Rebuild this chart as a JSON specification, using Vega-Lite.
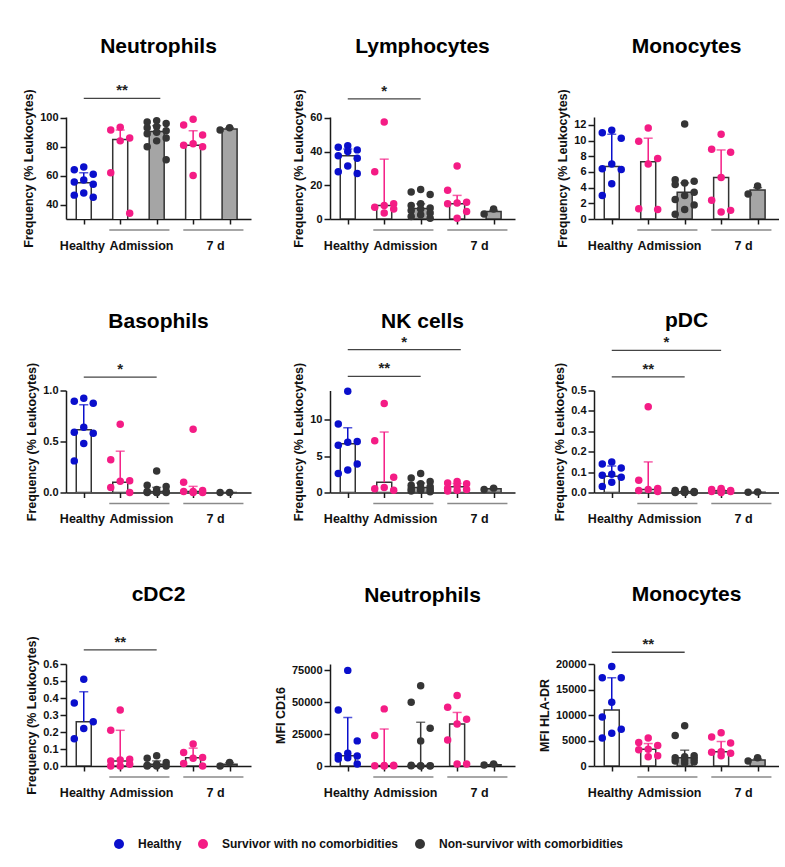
{
"$schema": "https://vega.github.io/schema/vega-lite/v6.json",
"padding": {"left": 22, "top": 35, "right": 0, "bottom": 0},
"datasets": {
"cats": [
{"c":"H","pos":1,"grp":"Healthy"},
{"c":"SA","pos":2,"grp":"Survivor with no comorbidities"},
{"c":"NA","pos":3,"grp":"Non-survivor with comorbidities"},
{"c":"S7","pos":4,"grp":"Survivor with no comorbidities"},
{"c":"N7","pos":5,"grp":"Non-survivor with comorbidities"}
],
"und": [{"x1":1.7,"x2":3.35},{"x1":3.73,"x2":5.38}],
"sig": [
{"p":1,"x1":1,"x2":3.1,"y":113.4,"t":"**"},
{"p":2,"x1":1,"x2":3,"y":71.2,"t":"*"},
{"p":4,"x1":1,"x2":3,"y":1.131,"t":"*"},
{"p":5,"x1":1,"x2":4.1,"y":19.6,"t":"*"},
{"p":5,"x1":1,"x2":3,"y":15.95,"t":"**"},
{"p":6,"x1":1,"x2":4,"y":0.697,"t":"*"},
{"p":6,"x1":1,"x2":3,"y":0.567,"t":"**"},
{"p":7,"x1":1,"x2":3,"y":0.683,"t":"**"},
{"p":9,"x1":1,"x2":3,"y":22300,"t":"**"}
],
"sum": [
{"p":1,"c":"H","med":55,"q3":62},{"p":1,"c":"SA","med":85,"q3":91.5},{"p":1,"c":"NA","med":90.5,"q3":94.5},{"p":1,"c":"S7","med":81,"q3":91},{"p":1,"c":"N7","med":92.2,"q3":93},
{"p":2,"c":"H","med":37.5,"q3":41.5},{"p":2,"c":"SA","med":8,"q3":35.5},{"p":2,"c":"NA","med":6.3,"q3":9},{"p":2,"c":"S7","med":9,"q3":14},{"p":2,"c":"N7","med":4.5,"q3":5.2},
{"p":3,"c":"H","med":6.7,"q3":10.8},{"p":3,"c":"SA","med":7.3,"q3":10.3},{"p":3,"c":"NA","med":3.4,"q3":4.6},{"p":3,"c":"S7","med":5.3,"q3":8.8},{"p":3,"c":"N7","med":3.7,"q3":4},
{"p":4,"c":"H","med":0.615,"q3":0.86},{"p":4,"c":"SA","med":0.1,"q3":0.405},{"p":4,"c":"NA","med":0.01,"q3":0.05},{"p":4,"c":"S7","med":0.01,"q3":0.06},{"p":4,"c":"N7","med":0,"q3":0},
{"p":5,"c":"H","med":6.7,"q3":8.9},{"p":5,"c":"SA","med":1.4,"q3":8.3},{"p":5,"c":"NA","med":0.7,"q3":1.3},{"p":5,"c":"S7","med":0.8,"q3":1.25},{"p":5,"c":"N7","med":0.5,"q3":0.55},
{"p":6,"c":"H","med":0.08,"q3":0.13},{"p":6,"c":"SA","med":0.015,"q3":0.15},{"p":6,"c":"NA","med":0.004,"q3":0.008},{"p":6,"c":"S7","med":0.008,"q3":0.013},{"p":6,"c":"N7","med":0.0015,"q3":0.002},
{"p":7,"c":"H","med":0.26,"q3":0.437},{"p":7,"c":"SA","med":0.03,"q3":0.21},{"p":7,"c":"NA","med":0.01,"q3":0.03},{"p":7,"c":"S7","med":0.048,"q3":0.105},{"p":7,"c":"N7","med":0.01,"q3":0.02},
{"p":8,"c":"H","med":8000,"q3":38000},{"p":8,"c":"SA","med":300,"q3":29000},{"p":8,"c":"NA","med":400,"q3":34300},{"p":8,"c":"S7","med":33000,"q3":42000},{"p":8,"c":"N7","med":1000,"q3":1400},
{"p":9,"c":"H","med":11000,"q3":17300},{"p":9,"c":"SA","med":3300,"q3":4400},{"p":9,"c":"NA","med":1600,"q3":3100},{"p":9,"c":"S7","med":2800,"q3":4800},{"p":9,"c":"N7","med":1200,"q3":1400}
],
"pts": [
{"p":1,"c":"H","v":66},{"p":1,"c":"H","v":64},{"p":1,"c":"H","v":61},{"p":1,"c":"H","v":57},{"p":1,"c":"H","v":55.5},{"p":1,"c":"H","v":54},{"p":1,"c":"H","v":48},{"p":1,"c":"H","v":46.5},{"p":1,"c":"H","v":45},
{"p":1,"c":"SA","v":93.5},{"p":1,"c":"SA","v":91.5},{"p":1,"c":"SA","v":86},{"p":1,"c":"SA","v":84},{"p":1,"c":"SA","v":62},{"p":1,"c":"SA","v":34},
{"p":1,"c":"NA","v":98},{"p":1,"c":"NA","v":97},{"p":1,"c":"NA","v":96},{"p":1,"c":"NA","v":94},{"p":1,"c":"NA","v":93},{"p":1,"c":"NA","v":91},{"p":1,"c":"NA","v":90},{"p":1,"c":"NA","v":89},{"p":1,"c":"NA","v":86},{"p":1,"c":"NA","v":84},{"p":1,"c":"NA","v":80},{"p":1,"c":"NA","v":71},
{"p":1,"c":"S7","v":99},{"p":1,"c":"S7","v":95},{"p":1,"c":"S7","v":88},{"p":1,"c":"S7","v":82},{"p":1,"c":"S7","v":81},{"p":1,"c":"S7","v":80},{"p":1,"c":"S7","v":60},
{"p":1,"c":"N7","v":91.5},{"p":1,"c":"N7","v":93},
{"p":2,"c":"H","v":43.5},{"p":2,"c":"H","v":42.5},{"p":2,"c":"H","v":41},{"p":2,"c":"H","v":40},{"p":2,"c":"H","v":37.5},{"p":2,"c":"H","v":36},{"p":2,"c":"H","v":31.5},{"p":2,"c":"H","v":28},{"p":2,"c":"H","v":27},
{"p":2,"c":"SA","v":57.5},{"p":2,"c":"SA","v":28},{"p":2,"c":"SA","v":9},{"p":2,"c":"SA","v":8},{"p":2,"c":"SA","v":7},{"p":2,"c":"SA","v":6},{"p":2,"c":"SA","v":3.5},
{"p":2,"c":"NA","v":17.5},{"p":2,"c":"NA","v":16},{"p":2,"c":"NA","v":14.5},{"p":2,"c":"NA","v":9},{"p":2,"c":"NA","v":8},{"p":2,"c":"NA","v":6.5},{"p":2,"c":"NA","v":6},{"p":2,"c":"NA","v":5},{"p":2,"c":"NA","v":3.5},{"p":2,"c":"NA","v":2.5},{"p":2,"c":"NA","v":1.5},{"p":2,"c":"NA","v":0.5},
{"p":2,"c":"S7","v":31.5},{"p":2,"c":"S7","v":17},{"p":2,"c":"S7","v":10},{"p":2,"c":"S7","v":9.5},{"p":2,"c":"S7","v":9},{"p":2,"c":"S7","v":4.5},{"p":2,"c":"S7","v":0.5},
{"p":2,"c":"N7","v":6},{"p":2,"c":"N7","v":3},
{"p":3,"c":"H","v":11.3},{"p":3,"c":"H","v":11},{"p":3,"c":"H","v":10.3},{"p":3,"c":"H","v":7},{"p":3,"c":"H","v":6.4},{"p":3,"c":"H","v":6.3},{"p":3,"c":"H","v":4.5},{"p":3,"c":"H","v":3},
{"p":3,"c":"SA","v":11.6},{"p":3,"c":"SA","v":9.9},{"p":3,"c":"SA","v":7.7},{"p":3,"c":"SA","v":7},{"p":3,"c":"SA","v":1.3},{"p":3,"c":"SA","v":1.2},
{"p":3,"c":"NA","v":12.1},{"p":3,"c":"NA","v":5},{"p":3,"c":"NA","v":4.8},{"p":3,"c":"NA","v":4.6},{"p":3,"c":"NA","v":4.4},{"p":3,"c":"NA","v":3.4},{"p":3,"c":"NA","v":3},{"p":3,"c":"NA","v":2.5},{"p":3,"c":"NA","v":1.8},{"p":3,"c":"NA","v":1.2},{"p":3,"c":"NA","v":0.6},
{"p":3,"c":"S7","v":10.8},{"p":3,"c":"S7","v":8.9},{"p":3,"c":"S7","v":8.5},{"p":3,"c":"S7","v":5.3},{"p":3,"c":"S7","v":2.4},{"p":3,"c":"S7","v":1.1},{"p":3,"c":"S7","v":0.9},
{"p":3,"c":"N7","v":4.2},{"p":3,"c":"N7","v":3.2},
{"p":4,"c":"H","v":0.925},{"p":4,"c":"H","v":0.895},{"p":4,"c":"H","v":0.875},{"p":4,"c":"H","v":0.64},{"p":4,"c":"H","v":0.59},{"p":4,"c":"H","v":0.58},{"p":4,"c":"H","v":0.48},{"p":4,"c":"H","v":0.31},
{"p":4,"c":"SA","v":0.67},{"p":4,"c":"SA","v":0.32},{"p":4,"c":"SA","v":0.115},{"p":4,"c":"SA","v":0.11},{"p":4,"c":"SA","v":0.05},{"p":4,"c":"SA","v":0},
{"p":4,"c":"NA","v":0.21},{"p":4,"c":"NA","v":0.07},{"p":4,"c":"NA","v":0.06},{"p":4,"c":"NA","v":0.03},{"p":4,"c":"NA","v":0.01},{"p":4,"c":"NA","v":0.01},{"p":4,"c":"NA","v":0},{"p":4,"c":"NA","v":0},{"p":4,"c":"NA","v":0},{"p":4,"c":"NA","v":0},
{"p":4,"c":"S7","v":0.62},{"p":4,"c":"S7","v":0.1},{"p":4,"c":"S7","v":0.02},{"p":4,"c":"S7","v":0.01},{"p":4,"c":"S7","v":0.01},{"p":4,"c":"S7","v":0},{"p":4,"c":"S7","v":0},
{"p":4,"c":"N7","v":0},{"p":4,"c":"N7","v":0},
{"p":5,"c":"H","v":13.9},{"p":5,"c":"H","v":9.4},{"p":5,"c":"H","v":7},{"p":5,"c":"H","v":6.9},{"p":5,"c":"H","v":6.5},{"p":5,"c":"H","v":3.9},{"p":5,"c":"H","v":3.1},{"p":5,"c":"H","v":2.6},
{"p":5,"c":"SA","v":12.2},{"p":5,"c":"SA","v":7.1},{"p":5,"c":"SA","v":2.1},{"p":5,"c":"SA","v":0.7},{"p":5,"c":"SA","v":0.5},{"p":5,"c":"SA","v":0.3},
{"p":5,"c":"NA","v":2.6},{"p":5,"c":"NA","v":2},{"p":5,"c":"NA","v":1.5},{"p":5,"c":"NA","v":1.2},{"p":5,"c":"NA","v":1},{"p":5,"c":"NA","v":0.8},{"p":5,"c":"NA","v":0.6},{"p":5,"c":"NA","v":0.5},{"p":5,"c":"NA","v":0.4},{"p":5,"c":"NA","v":0.3},{"p":5,"c":"NA","v":0.2},{"p":5,"c":"NA","v":0.1},
{"p":5,"c":"S7","v":1.5},{"p":5,"c":"S7","v":1.3},{"p":5,"c":"S7","v":1.2},{"p":5,"c":"S7","v":1},{"p":5,"c":"S7","v":0.6},{"p":5,"c":"S7","v":0.4},{"p":5,"c":"S7","v":0.3},{"p":5,"c":"S7","v":0.2},
{"p":5,"c":"N7","v":0.6},{"p":5,"c":"N7","v":0.4},
{"p":6,"c":"H","v":0.15},{"p":6,"c":"H","v":0.14},{"p":6,"c":"H","v":0.12},{"p":6,"c":"H","v":0.09},{"p":6,"c":"H","v":0.085},{"p":6,"c":"H","v":0.075},{"p":6,"c":"H","v":0.05},{"p":6,"c":"H","v":0.03},
{"p":6,"c":"SA","v":0.42},{"p":6,"c":"SA","v":0.06},{"p":6,"c":"SA","v":0.02},{"p":6,"c":"SA","v":0.015},{"p":6,"c":"SA","v":0.01},{"p":6,"c":"SA","v":0.005},
{"p":6,"c":"NA","v":0.015},{"p":6,"c":"NA","v":0.01},{"p":6,"c":"NA","v":0.005},{"p":6,"c":"NA","v":0.005},{"p":6,"c":"NA","v":0.003},{"p":6,"c":"NA","v":0.002},{"p":6,"c":"NA","v":0.001},{"p":6,"c":"NA","v":0},{"p":6,"c":"NA","v":0},{"p":6,"c":"NA","v":0},
{"p":6,"c":"S7","v":0.02},{"p":6,"c":"S7","v":0.015},{"p":6,"c":"S7","v":0.01},{"p":6,"c":"S7","v":0.01},{"p":6,"c":"S7","v":0.005},{"p":6,"c":"S7","v":0.005},{"p":6,"c":"S7","v":0},
{"p":6,"c":"N7","v":0.001},{"p":6,"c":"N7","v":0.002},
{"p":7,"c":"H","v":0.51},{"p":7,"c":"H","v":0.37},{"p":7,"c":"H","v":0.26},{"p":7,"c":"H","v":0.22},{"p":7,"c":"H","v":0.16},
{"p":7,"c":"SA","v":0.33},{"p":7,"c":"SA","v":0.21},{"p":7,"c":"SA","v":0.04},{"p":7,"c":"SA","v":0.035},{"p":7,"c":"SA","v":0.03},{"p":7,"c":"SA","v":0.01},{"p":7,"c":"SA","v":0},{"p":7,"c":"SA","v":0},
{"p":7,"c":"NA","v":0.06},{"p":7,"c":"NA","v":0.045},{"p":7,"c":"NA","v":0.02},{"p":7,"c":"NA","v":0.01},{"p":7,"c":"NA","v":0.005},{"p":7,"c":"NA","v":0},{"p":7,"c":"NA","v":0},{"p":7,"c":"NA","v":0},
{"p":7,"c":"S7","v":0.13},{"p":7,"c":"S7","v":0.08},{"p":7,"c":"S7","v":0.05},{"p":7,"c":"S7","v":0.045},{"p":7,"c":"S7","v":0.015},{"p":7,"c":"S7","v":0},
{"p":7,"c":"N7","v":0.02},{"p":7,"c":"N7","v":0},
{"p":8,"c":"H","v":75000},{"p":8,"c":"H","v":44000},{"p":8,"c":"H","v":19700},{"p":8,"c":"H","v":10000},{"p":8,"c":"H","v":8000},{"p":8,"c":"H","v":7800},{"p":8,"c":"H","v":6500},{"p":8,"c":"H","v":5500},{"p":8,"c":"H","v":1600},
{"p":8,"c":"SA","v":44800},{"p":8,"c":"SA","v":24000},{"p":8,"c":"SA","v":600},{"p":8,"c":"SA","v":400},{"p":8,"c":"SA","v":200},{"p":8,"c":"SA","v":100},{"p":8,"c":"SA","v":0},
{"p":8,"c":"NA","v":62900},{"p":8,"c":"NA","v":50000},{"p":8,"c":"NA","v":29600},{"p":8,"c":"NA","v":19700},{"p":8,"c":"NA","v":500},{"p":8,"c":"NA","v":300},{"p":8,"c":"NA","v":200},{"p":8,"c":"NA","v":100},{"p":8,"c":"NA","v":0},{"p":8,"c":"NA","v":0},
{"p":8,"c":"S7","v":55300},{"p":8,"c":"S7","v":46100},{"p":8,"c":"S7","v":36700},{"p":8,"c":"S7","v":33000},{"p":8,"c":"S7","v":20400},{"p":8,"c":"S7","v":1500},{"p":8,"c":"S7","v":1500},
{"p":8,"c":"N7","v":1500},{"p":8,"c":"N7","v":800},
{"p":9,"c":"H","v":19500},{"p":9,"c":"H","v":17300},{"p":9,"c":"H","v":17300},{"p":9,"c":"H","v":12500},{"p":9,"c":"H","v":9600},{"p":9,"c":"H","v":7200},{"p":9,"c":"H","v":6400},{"p":9,"c":"H","v":5500},
{"p":9,"c":"SA","v":5500},{"p":9,"c":"SA","v":4600},{"p":9,"c":"SA","v":4000},{"p":9,"c":"SA","v":3300},{"p":9,"c":"SA","v":3200},{"p":9,"c":"SA","v":2000},{"p":9,"c":"SA","v":1800},
{"p":9,"c":"NA","v":7900},{"p":9,"c":"NA","v":6000},{"p":9,"c":"NA","v":2000},{"p":9,"c":"NA","v":1800},{"p":9,"c":"NA","v":1600},{"p":9,"c":"NA","v":1400},{"p":9,"c":"NA","v":1200},{"p":9,"c":"NA","v":1000},{"p":9,"c":"NA","v":800},{"p":9,"c":"NA","v":600},
{"p":9,"c":"S7","v":6500},{"p":9,"c":"S7","v":5700},{"p":9,"c":"S7","v":4500},{"p":9,"c":"S7","v":2800},{"p":9,"c":"S7","v":2700},{"p":9,"c":"S7","v":2500},{"p":9,"c":"S7","v":2000},
{"p":9,"c":"N7","v":1600},{"p":9,"c":"N7","v":1000}
]
},
"columns": 3,
"bounds": "flush",
"spacing": {"row": 171.5, "column": 79},
"concat": [
{"width":185,"height":102,"title":{"text":"Neutrophils","offset":26},"layer":[
 {"data":{"name":"sum"},"transform":[{"filter":"datum.p==1"},{"lookup":"c","from":{"data":{"name":"cats"},"key":"c","fields":["pos","grp"]}}],
  "mark":{"type":"bar","width":15,"clip":true,"stroke":"#333","strokeWidth":1.5},
  "encoding":{"x":{"field":"pos","type":"quantitative","scale":{"domain":[0.65,5.45],"nice":false,"zero":false},"axis":{"title":null,"values":[0.95,1,2,2.57,3,4,4.6,5],"tickCount":20,"labelExpr":"datum.value==0.95?'Healthy':datum.value==2.57?'Admission':datum.value==4.6?'7 d':''","tickOpacity":{"condition":{"test":"datum.value==0.95||datum.value==2.57||datum.value==4.6","value":0},"value":1},"labelFlush":false,"labelOverlap":false,"labelFontSize":12.5,"labelPadding":15}},
   "y":{"field":"med","type":"quantitative","scale":{"domain":[30,100.5],"nice":false,"zero":false},"axis":{"title":"Frequency (% Leukocytes)","values":[40,60,80,100],"tickCount":20,"format":"d"}},
   "fill":{"field":"c","type":"nominal","scale":{"domain":["H","SA","NA","S7","N7"],"range":["#ffffff","#ffffff","#a5a5a5","#ffffff","#a5a5a5"]},"legend":null}}},
 {"data":{"name":"sum"},"transform":[{"filter":"datum.p==1"},{"lookup":"c","from":{"data":{"name":"cats"},"key":"c","fields":["pos","grp"]}}],
  "mark":{"type":"rule","strokeWidth":1.5},
  "encoding":{"x":{"field":"pos","type":"quantitative"},"y":{"field":"med","type":"quantitative"},"y2":{"field":"q3"},"color":{"field":"grp","type":"nominal","title":null}}},
 {"data":{"name":"sum"},"transform":[{"filter":"datum.p==1"},{"lookup":"c","from":{"data":{"name":"cats"},"key":"c","fields":["pos","grp"]}}],
  "mark":{"type":"tick","orient":"horizontal","size":9,"thickness":1.5},
  "encoding":{"x":{"field":"pos","type":"quantitative"},"y":{"field":"q3","type":"quantitative"},"color":{"field":"grp","type":"nominal","title":null}}},
 {"data":{"name":"pts"},"transform":[{"filter":"datum.p==1"},{"lookup":"c","from":{"data":{"name":"cats"},"key":"c","fields":["pos","grp"]}},{"window":[{"op":"row_number","as":"r"}],"groupby":["c"],"sort":[{"field":"v","order":"descending"}]},{"calculate":"datum.pos + (datum.r % 3 == 2 ? -0.26 : datum.r % 3 == 0 ? 0.26 : 0)","as":"xj"}],
  "mark":{"type":"circle","size":56,"opacity":1},
  "encoding":{"x":{"field":"xj","type":"quantitative"},"y":{"field":"v","type":"quantitative"},"color":{"field":"grp","type":"nominal","title":null,"scale":{"domain":["Healthy","Survivor with no comorbidities","Non-survivor with comorbidities"],"range":["#0a0fcc","#f41c85","#353535"]}}}},
 {"data":{"name":"sig"},"transform":[{"filter":"datum.p==1"}],
  "mark":{"type":"rule","stroke":"#444","strokeWidth":1.3},
  "encoding":{"x":{"field":"x1","type":"quantitative"},"x2":{"field":"x2"},"y":{"field":"y","type":"quantitative"}}},
 {"data":{"name":"sig"},"transform":[{"filter":"datum.p==1"},{"calculate":"(datum.x1+datum.x2)/2","as":"xm"}],
  "mark":{"type":"text","fontSize":15,"fontWeight":"bold","baseline":"alphabetic","dy":-3,"color":"#222"},
  "encoding":{"x":{"field":"xm","type":"quantitative"},"y":{"field":"y","type":"quantitative"},"text":{"field":"t"}}},
 {"data":{"name":"und"},
  "mark":{"type":"rule","stroke":"#8a8a8a","strokeWidth":1.3,"yOffset":11},
  "encoding":{"x":{"field":"x1","type":"quantitative"},"x2":{"field":"x2"},"y":{"datum":30}}}
]},
{"width":185,"height":102,"title":{"text":"Lymphocytes","offset":27},"layer":[
 {"data":{"name":"sum"},"transform":[{"filter":"datum.p==2"},{"lookup":"c","from":{"data":{"name":"cats"},"key":"c","fields":["pos","grp"]}}],
  "mark":{"type":"bar","width":15,"clip":true,"stroke":"#333","strokeWidth":1.5},
  "encoding":{"x":{"field":"pos","type":"quantitative","scale":{"domain":[0.65,5.45],"nice":false,"zero":false},"axis":{"title":null,"values":[0.95,1,2,2.57,3,4,4.6,5],"tickCount":20,"labelExpr":"datum.value==0.95?'Healthy':datum.value==2.57?'Admission':datum.value==4.6?'7 d':''","tickOpacity":{"condition":{"test":"datum.value==0.95||datum.value==2.57||datum.value==4.6","value":0},"value":1},"labelFlush":false,"labelOverlap":false,"labelFontSize":12.5,"labelPadding":15}},
   "y":{"field":"med","type":"quantitative","scale":{"domain":[0,60.5],"nice":false},"axis":{"title":"Frequency (% Leukocytes)","values":[0,20,40,60],"tickCount":20,"format":"d"}},
   "fill":{"field":"c","type":"nominal","scale":{"domain":["H","SA","NA","S7","N7"],"range":["#ffffff","#ffffff","#a5a5a5","#ffffff","#a5a5a5"]},"legend":null}}},
 {"data":{"name":"sum"},"transform":[{"filter":"datum.p==2"},{"lookup":"c","from":{"data":{"name":"cats"},"key":"c","fields":["pos","grp"]}}],
  "mark":{"type":"rule","strokeWidth":1.5},
  "encoding":{"x":{"field":"pos","type":"quantitative"},"y":{"field":"med","type":"quantitative"},"y2":{"field":"q3"},"color":{"field":"grp","type":"nominal","title":null}}},
 {"data":{"name":"sum"},"transform":[{"filter":"datum.p==2"},{"lookup":"c","from":{"data":{"name":"cats"},"key":"c","fields":["pos","grp"]}}],
  "mark":{"type":"tick","orient":"horizontal","size":9,"thickness":1.5},
  "encoding":{"x":{"field":"pos","type":"quantitative"},"y":{"field":"q3","type":"quantitative"},"color":{"field":"grp","type":"nominal","title":null}}},
 {"data":{"name":"pts"},"transform":[{"filter":"datum.p==2"},{"lookup":"c","from":{"data":{"name":"cats"},"key":"c","fields":["pos","grp"]}},{"window":[{"op":"row_number","as":"r"}],"groupby":["c"],"sort":[{"field":"v","order":"descending"}]},{"calculate":"datum.pos + (datum.r % 3 == 2 ? -0.26 : datum.r % 3 == 0 ? 0.26 : 0)","as":"xj"}],
  "mark":{"type":"circle","size":56,"opacity":1},
  "encoding":{"x":{"field":"xj","type":"quantitative"},"y":{"field":"v","type":"quantitative"},"color":{"field":"grp","type":"nominal","title":null}}},
 {"data":{"name":"sig"},"transform":[{"filter":"datum.p==2"}],
  "mark":{"type":"rule","stroke":"#444","strokeWidth":1.3},
  "encoding":{"x":{"field":"x1","type":"quantitative"},"x2":{"field":"x2"},"y":{"field":"y","type":"quantitative"}}},
 {"data":{"name":"sig"},"transform":[{"filter":"datum.p==2"},{"calculate":"(datum.x1+datum.x2)/2","as":"xm"}],
  "mark":{"type":"text","fontSize":15,"fontWeight":"bold","baseline":"alphabetic","dy":-3,"color":"#222"},
  "encoding":{"x":{"field":"xm","type":"quantitative"},"y":{"field":"y","type":"quantitative"},"text":{"field":"t"}}},
 {"data":{"name":"und"},
  "mark":{"type":"rule","stroke":"#8a8a8a","strokeWidth":1.3,"yOffset":11},
  "encoding":{"x":{"field":"x1","type":"quantitative"},"x2":{"field":"x2"},"y":{"datum":0}}}
]},
{"width":185,"height":102,"title":{"text":"Monocytes","offset":32},"layer":[
 {"data":{"name":"sum"},"transform":[{"filter":"datum.p==3"},{"lookup":"c","from":{"data":{"name":"cats"},"key":"c","fields":["pos","grp"]}}],
  "mark":{"type":"bar","width":15,"clip":true,"stroke":"#333","strokeWidth":1.5},
  "encoding":{"x":{"field":"pos","type":"quantitative","scale":{"domain":[0.65,5.45],"nice":false,"zero":false},"axis":{"title":null,"values":[0.95,1,2,2.57,3,4,4.6,5],"tickCount":20,"labelExpr":"datum.value==0.95?'Healthy':datum.value==2.57?'Admission':datum.value==4.6?'7 d':''","tickOpacity":{"condition":{"test":"datum.value==0.95||datum.value==2.57||datum.value==4.6","value":0},"value":1},"labelFlush":false,"labelOverlap":false,"labelFontSize":12.5,"labelPadding":15}},
   "y":{"field":"med","type":"quantitative","scale":{"domain":[0,13],"nice":false},"axis":{"title":"Frequency (% Leukocytes)","values":[0,2,4,6,8,10,12],"tickCount":20,"format":"d"}},
   "fill":{"field":"c","type":"nominal","scale":{"domain":["H","SA","NA","S7","N7"],"range":["#ffffff","#ffffff","#a5a5a5","#ffffff","#a5a5a5"]},"legend":null}}},
 {"data":{"name":"sum"},"transform":[{"filter":"datum.p==3"},{"lookup":"c","from":{"data":{"name":"cats"},"key":"c","fields":["pos","grp"]}}],
  "mark":{"type":"rule","strokeWidth":1.5},
  "encoding":{"x":{"field":"pos","type":"quantitative"},"y":{"field":"med","type":"quantitative"},"y2":{"field":"q3"},"color":{"field":"grp","type":"nominal","title":null}}},
 {"data":{"name":"sum"},"transform":[{"filter":"datum.p==3"},{"lookup":"c","from":{"data":{"name":"cats"},"key":"c","fields":["pos","grp"]}}],
  "mark":{"type":"tick","orient":"horizontal","size":9,"thickness":1.5},
  "encoding":{"x":{"field":"pos","type":"quantitative"},"y":{"field":"q3","type":"quantitative"},"color":{"field":"grp","type":"nominal","title":null}}},
 {"data":{"name":"pts"},"transform":[{"filter":"datum.p==3"},{"lookup":"c","from":{"data":{"name":"cats"},"key":"c","fields":["pos","grp"]}},{"window":[{"op":"row_number","as":"r"}],"groupby":["c"],"sort":[{"field":"v","order":"descending"}]},{"calculate":"datum.pos + (datum.r % 3 == 2 ? -0.26 : datum.r % 3 == 0 ? 0.26 : 0)","as":"xj"}],
  "mark":{"type":"circle","size":56,"opacity":1},
  "encoding":{"x":{"field":"xj","type":"quantitative"},"y":{"field":"v","type":"quantitative"},"color":{"field":"grp","type":"nominal","title":null}}},
 {"data":{"name":"und"},
  "mark":{"type":"rule","stroke":"#8a8a8a","strokeWidth":1.3,"yOffset":11},
  "encoding":{"x":{"field":"x1","type":"quantitative"},"x2":{"field":"x2"},"y":{"datum":0}}}
]},
{"width":185,"height":102,"title":{"text":"Basophils","offset":30},"layer":[
 {"data":{"name":"sum"},"transform":[{"filter":"datum.p==4"},{"lookup":"c","from":{"data":{"name":"cats"},"key":"c","fields":["pos","grp"]}}],
  "mark":{"type":"bar","width":15,"clip":true,"stroke":"#333","strokeWidth":1.5},
  "encoding":{"x":{"field":"pos","type":"quantitative","scale":{"domain":[0.65,5.45],"nice":false,"zero":false},"axis":{"title":null,"values":[0.95,1,2,2.57,3,4,4.6,5],"tickCount":20,"labelExpr":"datum.value==0.95?'Healthy':datum.value==2.57?'Admission':datum.value==4.6?'7 d':''","tickOpacity":{"condition":{"test":"datum.value==0.95||datum.value==2.57||datum.value==4.6","value":0},"value":1},"labelFlush":false,"labelOverlap":false,"labelFontSize":12.5,"labelPadding":15}},
   "y":{"field":"med","type":"quantitative","scale":{"domain":[0,1],"nice":false},"axis":{"title":"Frequency (% Leukocytes)","values":[0,0.5,1],"tickCount":20,"format":".1f"}},
   "fill":{"field":"c","type":"nominal","scale":{"domain":["H","SA","NA","S7","N7"],"range":["#ffffff","#ffffff","#a5a5a5","#ffffff","#a5a5a5"]},"legend":null}}},
 {"data":{"name":"sum"},"transform":[{"filter":"datum.p==4"},{"lookup":"c","from":{"data":{"name":"cats"},"key":"c","fields":["pos","grp"]}}],
  "mark":{"type":"rule","strokeWidth":1.5},
  "encoding":{"x":{"field":"pos","type":"quantitative"},"y":{"field":"med","type":"quantitative"},"y2":{"field":"q3"},"color":{"field":"grp","type":"nominal","title":null}}},
 {"data":{"name":"sum"},"transform":[{"filter":"datum.p==4"},{"lookup":"c","from":{"data":{"name":"cats"},"key":"c","fields":["pos","grp"]}}],
  "mark":{"type":"tick","orient":"horizontal","size":9,"thickness":1.5},
  "encoding":{"x":{"field":"pos","type":"quantitative"},"y":{"field":"q3","type":"quantitative"},"color":{"field":"grp","type":"nominal","title":null}}},
 {"data":{"name":"pts"},"transform":[{"filter":"datum.p==4"},{"lookup":"c","from":{"data":{"name":"cats"},"key":"c","fields":["pos","grp"]}},{"window":[{"op":"row_number","as":"r"}],"groupby":["c"],"sort":[{"field":"v","order":"descending"}]},{"calculate":"datum.pos + (datum.r % 3 == 2 ? -0.26 : datum.r % 3 == 0 ? 0.26 : 0)","as":"xj"}],
  "mark":{"type":"circle","size":56,"opacity":1},
  "encoding":{"x":{"field":"xj","type":"quantitative"},"y":{"field":"v","type":"quantitative"},"color":{"field":"grp","type":"nominal","title":null}}},
 {"data":{"name":"sig"},"transform":[{"filter":"datum.p==4"}],
  "mark":{"type":"rule","stroke":"#444","strokeWidth":1.3},
  "encoding":{"x":{"field":"x1","type":"quantitative"},"x2":{"field":"x2"},"y":{"field":"y","type":"quantitative"}}},
 {"data":{"name":"sig"},"transform":[{"filter":"datum.p==4"},{"calculate":"(datum.x1+datum.x2)/2","as":"xm"}],
  "mark":{"type":"text","fontSize":15,"fontWeight":"bold","baseline":"alphabetic","dy":-3,"color":"#222"},
  "encoding":{"x":{"field":"xm","type":"quantitative"},"y":{"field":"y","type":"quantitative"},"text":{"field":"t"}}},
 {"data":{"name":"und"},
  "mark":{"type":"rule","stroke":"#8a8a8a","strokeWidth":1.3,"yOffset":11},
  "encoding":{"x":{"field":"x1","type":"quantitative"},"x2":{"field":"x2"},"y":{"datum":0}}}
]},
{"width":185,"height":102,"title":{"text":"NK cells","offset":3},"layer":[
 {"data":{"name":"sum"},"transform":[{"filter":"datum.p==5"},{"lookup":"c","from":{"data":{"name":"cats"},"key":"c","fields":["pos","grp"]}}],
  "mark":{"type":"bar","width":15,"clip":true,"stroke":"#333","strokeWidth":1.5},
  "encoding":{"x":{"field":"pos","type":"quantitative","scale":{"domain":[0.65,5.45],"nice":false,"zero":false},"axis":{"title":null,"values":[0.95,1,2,2.57,3,4,4.6,5],"tickCount":20,"labelExpr":"datum.value==0.95?'Healthy':datum.value==2.57?'Admission':datum.value==4.6?'7 d':''","tickOpacity":{"condition":{"test":"datum.value==0.95||datum.value==2.57||datum.value==4.6","value":0},"value":1},"labelFlush":false,"labelOverlap":false,"labelFontSize":12.5,"labelPadding":15}},
   "y":{"field":"med","type":"quantitative","scale":{"domain":[0,14],"nice":false},"axis":{"title":"Frequency (% Leukocytes)","values":[0,5,10],"tickCount":20,"format":"d"}},
   "fill":{"field":"c","type":"nominal","scale":{"domain":["H","SA","NA","S7","N7"],"range":["#ffffff","#ffffff","#a5a5a5","#ffffff","#a5a5a5"]},"legend":null}}},
 {"data":{"name":"sum"},"transform":[{"filter":"datum.p==5"},{"lookup":"c","from":{"data":{"name":"cats"},"key":"c","fields":["pos","grp"]}}],
  "mark":{"type":"rule","strokeWidth":1.5},
  "encoding":{"x":{"field":"pos","type":"quantitative"},"y":{"field":"med","type":"quantitative"},"y2":{"field":"q3"},"color":{"field":"grp","type":"nominal","title":null}}},
 {"data":{"name":"sum"},"transform":[{"filter":"datum.p==5"},{"lookup":"c","from":{"data":{"name":"cats"},"key":"c","fields":["pos","grp"]}}],
  "mark":{"type":"tick","orient":"horizontal","size":9,"thickness":1.5},
  "encoding":{"x":{"field":"pos","type":"quantitative"},"y":{"field":"q3","type":"quantitative"},"color":{"field":"grp","type":"nominal","title":null}}},
 {"data":{"name":"pts"},"transform":[{"filter":"datum.p==5"},{"lookup":"c","from":{"data":{"name":"cats"},"key":"c","fields":["pos","grp"]}},{"window":[{"op":"row_number","as":"r"}],"groupby":["c"],"sort":[{"field":"v","order":"descending"}]},{"calculate":"datum.pos + (datum.r % 3 == 2 ? -0.26 : datum.r % 3 == 0 ? 0.26 : 0)","as":"xj"}],
  "mark":{"type":"circle","size":56,"opacity":1},
  "encoding":{"x":{"field":"xj","type":"quantitative"},"y":{"field":"v","type":"quantitative"},"color":{"field":"grp","type":"nominal","title":null}}},
 {"data":{"name":"sig"},"transform":[{"filter":"datum.p==5"}],
  "mark":{"type":"rule","stroke":"#444","strokeWidth":1.3},
  "encoding":{"x":{"field":"x1","type":"quantitative"},"x2":{"field":"x2"},"y":{"field":"y","type":"quantitative"}}},
 {"data":{"name":"sig"},"transform":[{"filter":"datum.p==5"},{"calculate":"(datum.x1+datum.x2)/2","as":"xm"}],
  "mark":{"type":"text","fontSize":15,"fontWeight":"bold","baseline":"alphabetic","dy":-3,"color":"#222"},
  "encoding":{"x":{"field":"xm","type":"quantitative"},"y":{"field":"y","type":"quantitative"},"text":{"field":"t"}}},
 {"data":{"name":"und"},
  "mark":{"type":"rule","stroke":"#8a8a8a","strokeWidth":1.3,"yOffset":11},
  "encoding":{"x":{"field":"x1","type":"quantitative"},"x2":{"field":"x2"},"y":{"datum":0}}}
]},
{"width":185,"height":102,"title":{"text":"pDC","offset":4},"layer":[
 {"data":{"name":"sum"},"transform":[{"filter":"datum.p==6"},{"lookup":"c","from":{"data":{"name":"cats"},"key":"c","fields":["pos","grp"]}}],
  "mark":{"type":"bar","width":15,"clip":true,"stroke":"#333","strokeWidth":1.5},
  "encoding":{"x":{"field":"pos","type":"quantitative","scale":{"domain":[0.65,5.45],"nice":false,"zero":false},"axis":{"title":null,"values":[0.95,1,2,2.57,3,4,4.6,5],"tickCount":20,"labelExpr":"datum.value==0.95?'Healthy':datum.value==2.57?'Admission':datum.value==4.6?'7 d':''","tickOpacity":{"condition":{"test":"datum.value==0.95||datum.value==2.57||datum.value==4.6","value":0},"value":1},"labelFlush":false,"labelOverlap":false,"labelFontSize":12.5,"labelPadding":15}},
   "y":{"field":"med","type":"quantitative","scale":{"domain":[0,0.5],"nice":false},"axis":{"title":"Frequency (% Leukocytes)","values":[0,0.1,0.2,0.3,0.4,0.5],"tickCount":20,"format":".1f"}},
   "fill":{"field":"c","type":"nominal","scale":{"domain":["H","SA","NA","S7","N7"],"range":["#ffffff","#ffffff","#a5a5a5","#ffffff","#a5a5a5"]},"legend":null}}},
 {"data":{"name":"sum"},"transform":[{"filter":"datum.p==6"},{"lookup":"c","from":{"data":{"name":"cats"},"key":"c","fields":["pos","grp"]}}],
  "mark":{"type":"rule","strokeWidth":1.5},
  "encoding":{"x":{"field":"pos","type":"quantitative"},"y":{"field":"med","type":"quantitative"},"y2":{"field":"q3"},"color":{"field":"grp","type":"nominal","title":null}}},
 {"data":{"name":"sum"},"transform":[{"filter":"datum.p==6"},{"lookup":"c","from":{"data":{"name":"cats"},"key":"c","fields":["pos","grp"]}}],
  "mark":{"type":"tick","orient":"horizontal","size":9,"thickness":1.5},
  "encoding":{"x":{"field":"pos","type":"quantitative"},"y":{"field":"q3","type":"quantitative"},"color":{"field":"grp","type":"nominal","title":null}}},
 {"data":{"name":"pts"},"transform":[{"filter":"datum.p==6"},{"lookup":"c","from":{"data":{"name":"cats"},"key":"c","fields":["pos","grp"]}},{"window":[{"op":"row_number","as":"r"}],"groupby":["c"],"sort":[{"field":"v","order":"descending"}]},{"calculate":"datum.pos + (datum.r % 3 == 2 ? -0.26 : datum.r % 3 == 0 ? 0.26 : 0)","as":"xj"}],
  "mark":{"type":"circle","size":56,"opacity":1},
  "encoding":{"x":{"field":"xj","type":"quantitative"},"y":{"field":"v","type":"quantitative"},"color":{"field":"grp","type":"nominal","title":null}}},
 {"data":{"name":"sig"},"transform":[{"filter":"datum.p==6"}],
  "mark":{"type":"rule","stroke":"#444","strokeWidth":1.3},
  "encoding":{"x":{"field":"x1","type":"quantitative"},"x2":{"field":"x2"},"y":{"field":"y","type":"quantitative"}}},
 {"data":{"name":"sig"},"transform":[{"filter":"datum.p==6"},{"calculate":"(datum.x1+datum.x2)/2","as":"xm"}],
  "mark":{"type":"text","fontSize":15,"fontWeight":"bold","baseline":"alphabetic","dy":-3,"color":"#222"},
  "encoding":{"x":{"field":"xm","type":"quantitative"},"y":{"field":"y","type":"quantitative"},"text":{"field":"t"}}},
 {"data":{"name":"und"},
  "mark":{"type":"rule","stroke":"#8a8a8a","strokeWidth":1.3,"yOffset":11},
  "encoding":{"x":{"field":"x1","type":"quantitative"},"x2":{"field":"x2"},"y":{"datum":0}}}
]},
{"width":185,"height":102,"title":{"text":"cDC2","offset":30},"layer":[
 {"data":{"name":"sum"},"transform":[{"filter":"datum.p==7"},{"lookup":"c","from":{"data":{"name":"cats"},"key":"c","fields":["pos","grp"]}}],
  "mark":{"type":"bar","width":15,"clip":true,"stroke":"#333","strokeWidth":1.5},
  "encoding":{"x":{"field":"pos","type":"quantitative","scale":{"domain":[0.65,5.45],"nice":false,"zero":false},"axis":{"title":null,"values":[0.95,1,2,2.57,3,4,4.6,5],"tickCount":20,"labelExpr":"datum.value==0.95?'Healthy':datum.value==2.57?'Admission':datum.value==4.6?'7 d':''","tickOpacity":{"condition":{"test":"datum.value==0.95||datum.value==2.57||datum.value==4.6","value":0},"value":1},"labelFlush":false,"labelOverlap":false,"labelFontSize":12.5,"labelPadding":15}},
   "y":{"field":"med","type":"quantitative","scale":{"domain":[0,0.6],"nice":false},"axis":{"title":"Frequency (% Leukocytes)","values":[0,0.1,0.2,0.3,0.4,0.5,0.6],"tickCount":20,"format":".1f"}},
   "fill":{"field":"c","type":"nominal","scale":{"domain":["H","SA","NA","S7","N7"],"range":["#ffffff","#ffffff","#a5a5a5","#ffffff","#a5a5a5"]},"legend":null}}},
 {"data":{"name":"sum"},"transform":[{"filter":"datum.p==7"},{"lookup":"c","from":{"data":{"name":"cats"},"key":"c","fields":["pos","grp"]}}],
  "mark":{"type":"rule","strokeWidth":1.5},
  "encoding":{"x":{"field":"pos","type":"quantitative"},"y":{"field":"med","type":"quantitative"},"y2":{"field":"q3"},"color":{"field":"grp","type":"nominal","title":null}}},
 {"data":{"name":"sum"},"transform":[{"filter":"datum.p==7"},{"lookup":"c","from":{"data":{"name":"cats"},"key":"c","fields":["pos","grp"]}}],
  "mark":{"type":"tick","orient":"horizontal","size":9,"thickness":1.5},
  "encoding":{"x":{"field":"pos","type":"quantitative"},"y":{"field":"q3","type":"quantitative"},"color":{"field":"grp","type":"nominal","title":null}}},
 {"data":{"name":"pts"},"transform":[{"filter":"datum.p==7"},{"lookup":"c","from":{"data":{"name":"cats"},"key":"c","fields":["pos","grp"]}},{"window":[{"op":"row_number","as":"r"}],"groupby":["c"],"sort":[{"field":"v","order":"descending"}]},{"calculate":"datum.pos + (datum.r % 3 == 2 ? -0.26 : datum.r % 3 == 0 ? 0.26 : 0)","as":"xj"}],
  "mark":{"type":"circle","size":56,"opacity":1},
  "encoding":{"x":{"field":"xj","type":"quantitative"},"y":{"field":"v","type":"quantitative"},"color":{"field":"grp","type":"nominal","title":null}}},
 {"data":{"name":"sig"},"transform":[{"filter":"datum.p==7"}],
  "mark":{"type":"rule","stroke":"#444","strokeWidth":1.3},
  "encoding":{"x":{"field":"x1","type":"quantitative"},"x2":{"field":"x2"},"y":{"field":"y","type":"quantitative"}}},
 {"data":{"name":"sig"},"transform":[{"filter":"datum.p==7"},{"calculate":"(datum.x1+datum.x2)/2","as":"xm"}],
  "mark":{"type":"text","fontSize":15,"fontWeight":"bold","baseline":"alphabetic","dy":-3,"color":"#222"},
  "encoding":{"x":{"field":"xm","type":"quantitative"},"y":{"field":"y","type":"quantitative"},"text":{"field":"t"}}},
 {"data":{"name":"und"},
  "mark":{"type":"rule","stroke":"#8a8a8a","strokeWidth":1.3,"yOffset":11},
  "encoding":{"x":{"field":"x1","type":"quantitative"},"x2":{"field":"x2"},"y":{"datum":0}}}
]},
{"width":185,"height":102,"title":{"text":"Neutrophils","offset":58},"layer":[
 {"data":{"name":"sum"},"transform":[{"filter":"datum.p==8"},{"lookup":"c","from":{"data":{"name":"cats"},"key":"c","fields":["pos","grp"]}}],
  "mark":{"type":"bar","width":15,"clip":true,"stroke":"#333","strokeWidth":1.5},
  "encoding":{"x":{"field":"pos","type":"quantitative","scale":{"domain":[0.65,5.45],"nice":false,"zero":false},"axis":{"title":null,"values":[0.95,1,2,2.57,3,4,4.6,5],"tickCount":20,"labelExpr":"datum.value==0.95?'Healthy':datum.value==2.57?'Admission':datum.value==4.6?'7 d':''","tickOpacity":{"condition":{"test":"datum.value==0.95||datum.value==2.57||datum.value==4.6","value":0},"value":1},"labelFlush":false,"labelOverlap":false,"labelFontSize":12.5,"labelPadding":15}},
   "y":{"field":"med","type":"quantitative","scale":{"domain":[0,80000],"nice":false},"axis":{"title":"MFI CD16","values":[0,25000,50000,75000],"tickCount":20,"format":"d"}},
   "fill":{"field":"c","type":"nominal","scale":{"domain":["H","SA","NA","S7","N7"],"range":["#ffffff","#ffffff","#a5a5a5","#ffffff","#a5a5a5"]},"legend":null}}},
 {"data":{"name":"sum"},"transform":[{"filter":"datum.p==8"},{"lookup":"c","from":{"data":{"name":"cats"},"key":"c","fields":["pos","grp"]}}],
  "mark":{"type":"rule","strokeWidth":1.5},
  "encoding":{"x":{"field":"pos","type":"quantitative"},"y":{"field":"med","type":"quantitative"},"y2":{"field":"q3"},"color":{"field":"grp","type":"nominal","title":null}}},
 {"data":{"name":"sum"},"transform":[{"filter":"datum.p==8"},{"lookup":"c","from":{"data":{"name":"cats"},"key":"c","fields":["pos","grp"]}}],
  "mark":{"type":"tick","orient":"horizontal","size":9,"thickness":1.5},
  "encoding":{"x":{"field":"pos","type":"quantitative"},"y":{"field":"q3","type":"quantitative"},"color":{"field":"grp","type":"nominal","title":null}}},
 {"data":{"name":"pts"},"transform":[{"filter":"datum.p==8"},{"lookup":"c","from":{"data":{"name":"cats"},"key":"c","fields":["pos","grp"]}},{"window":[{"op":"row_number","as":"r"}],"groupby":["c"],"sort":[{"field":"v","order":"descending"}]},{"calculate":"datum.pos + (datum.r % 3 == 2 ? -0.26 : datum.r % 3 == 0 ? 0.26 : 0)","as":"xj"}],
  "mark":{"type":"circle","size":56,"opacity":1},
  "encoding":{"x":{"field":"xj","type":"quantitative"},"y":{"field":"v","type":"quantitative"},"color":{"field":"grp","type":"nominal","title":null}}},
 {"data":{"name":"und"},
  "mark":{"type":"rule","stroke":"#8a8a8a","strokeWidth":1.3,"yOffset":11},
  "encoding":{"x":{"field":"x1","type":"quantitative"},"x2":{"field":"x2"},"y":{"datum":0}}}
]},
{"width":185,"height":102,"title":{"text":"Monocytes","offset":32},"layer":[
 {"data":{"name":"sum"},"transform":[{"filter":"datum.p==9"},{"lookup":"c","from":{"data":{"name":"cats"},"key":"c","fields":["pos","grp"]}}],
  "mark":{"type":"bar","width":15,"clip":true,"stroke":"#333","strokeWidth":1.5},
  "encoding":{"x":{"field":"pos","type":"quantitative","scale":{"domain":[0.65,5.45],"nice":false,"zero":false},"axis":{"title":null,"values":[0.95,1,2,2.57,3,4,4.6,5],"tickCount":20,"labelExpr":"datum.value==0.95?'Healthy':datum.value==2.57?'Admission':datum.value==4.6?'7 d':''","tickOpacity":{"condition":{"test":"datum.value==0.95||datum.value==2.57||datum.value==4.6","value":0},"value":1},"labelFlush":false,"labelOverlap":false,"labelFontSize":12.5,"labelPadding":15}},
   "y":{"field":"med","type":"quantitative","scale":{"domain":[0,20000],"nice":false},"axis":{"title":"MFI HLA-DR","values":[0,5000,10000,15000,20000],"tickCount":20,"format":"d"}},
   "fill":{"field":"c","type":"nominal","scale":{"domain":["H","SA","NA","S7","N7"],"range":["#ffffff","#ffffff","#a5a5a5","#ffffff","#a5a5a5"]},"legend":null}}},
 {"data":{"name":"sum"},"transform":[{"filter":"datum.p==9"},{"lookup":"c","from":{"data":{"name":"cats"},"key":"c","fields":["pos","grp"]}}],
  "mark":{"type":"rule","strokeWidth":1.5},
  "encoding":{"x":{"field":"pos","type":"quantitative"},"y":{"field":"med","type":"quantitative"},"y2":{"field":"q3"},"color":{"field":"grp","type":"nominal","title":null}}},
 {"data":{"name":"sum"},"transform":[{"filter":"datum.p==9"},{"lookup":"c","from":{"data":{"name":"cats"},"key":"c","fields":["pos","grp"]}}],
  "mark":{"type":"tick","orient":"horizontal","size":9,"thickness":1.5},
  "encoding":{"x":{"field":"pos","type":"quantitative"},"y":{"field":"q3","type":"quantitative"},"color":{"field":"grp","type":"nominal","title":null}}},
 {"data":{"name":"pts"},"transform":[{"filter":"datum.p==9"},{"lookup":"c","from":{"data":{"name":"cats"},"key":"c","fields":["pos","grp"]}},{"window":[{"op":"row_number","as":"r"}],"groupby":["c"],"sort":[{"field":"v","order":"descending"}]},{"calculate":"datum.pos + (datum.r % 3 == 2 ? -0.26 : datum.r % 3 == 0 ? 0.26 : 0)","as":"xj"}],
  "mark":{"type":"circle","size":56,"opacity":1},
  "encoding":{"x":{"field":"xj","type":"quantitative"},"y":{"field":"v","type":"quantitative"},"color":{"field":"grp","type":"nominal","title":null}}},
 {"data":{"name":"sig"},"transform":[{"filter":"datum.p==9"}],
  "mark":{"type":"rule","stroke":"#444","strokeWidth":1.3},
  "encoding":{"x":{"field":"x1","type":"quantitative"},"x2":{"field":"x2"},"y":{"field":"y","type":"quantitative"}}},
 {"data":{"name":"sig"},"transform":[{"filter":"datum.p==9"},{"calculate":"(datum.x1+datum.x2)/2","as":"xm"}],
  "mark":{"type":"text","fontSize":15,"fontWeight":"bold","baseline":"alphabetic","dy":-3,"color":"#222"},
  "encoding":{"x":{"field":"xm","type":"quantitative"},"y":{"field":"y","type":"quantitative"},"text":{"field":"t"}}},
 {"data":{"name":"und"},
  "mark":{"type":"rule","stroke":"#8a8a8a","strokeWidth":1.3,"yOffset":11},
  "encoding":{"x":{"field":"x1","type":"quantitative"},"x2":{"field":"x2"},"y":{"datum":0}}}
]}
],
"config": {
 "font": "Liberation Sans",
 "view": {"stroke": null},
 "axis": {"grid": false, "domainColor": "#1a1a1a", "domainWidth": 1.5, "tickColor": "#1a1a1a", "tickWidth": 1.5, "labelColor": "#111", "labelFontWeight": "bold", "labelFontSize": 11, "labelOverlap": false, "titleFontWeight": "bold", "titleFontSize": 12.5, "titleColor": "#111"},
 "axisY": {"tickSize": 6, "labelPadding": 2, "titlePadding": 4},
 "axisX": {"tickSize": 5},
 "title": {"fontSize": 21, "fontWeight": "bold", "color": "#000", "frame": "group", "anchor": "middle"},
 "legend": {"orient": "none", "legendX": 47, "legendY": 721, "direction": "horizontal", "columnPadding": 15, "labelFont": "Liberation Sans", "labelFontSize": 12, "labelFontWeight": "bold", "labelColor": "#111", "labelLimit": 0, "symbolType": "circle", "symbolSize": 100, "symbolStrokeWidth": 0, "symbolOpacity": 1, "labelOffset": 13}
}
}
